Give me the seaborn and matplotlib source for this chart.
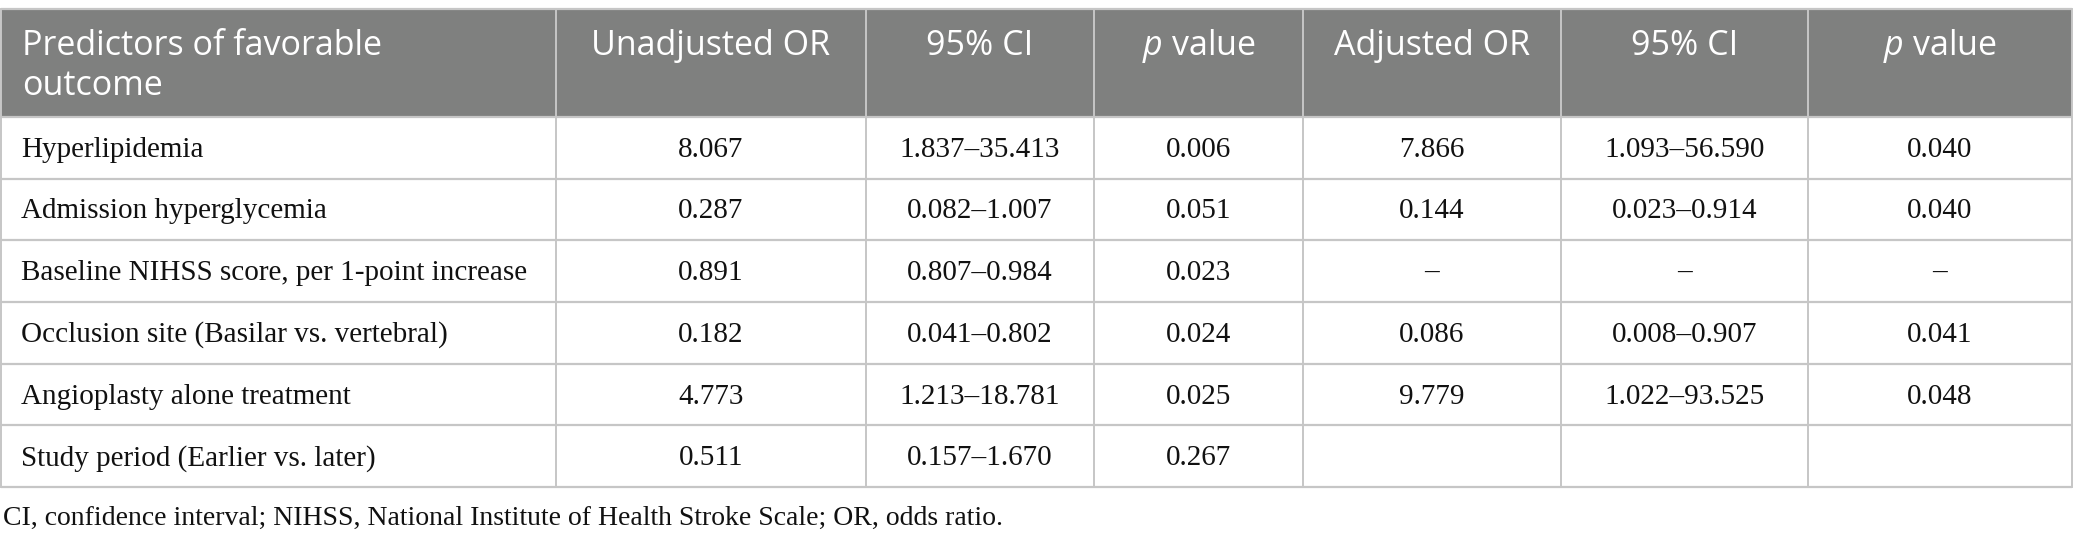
import matplotlib
matplotlib.use("Agg")
import matplotlib.pyplot as plt
import pandas as pd
import seaborn as sns
from matplotlib.patches import Rectangle

# ── table content ─────────────────────────────────────────────
HEADER_LINES = ["Predictors of favorable", "outcome"]
HEADERS = ["Unadjusted OR", "95% CI", "$p$ value", "Adjusted OR", "95% CI", "$p$ value"]
PREDICTORS = [
    "Hyperlipidemia",
    "Admission hyperglycemia",
    "Baseline NIHSS score, per 1-point increase",
    "Occlusion site (Basilar vs. vertebral)",
    "Angioplasty alone treatment",
    "Study period (Earlier vs. later)",
]
UNADJ_OR = ["8.067", "0.287", "0.891", "0.182", "4.773", "0.511"]
UNADJ_CI = ["1.837–35.413", "0.082–1.007", "0.807–0.984", "0.041–0.802", "1.213–18.781", "0.157–1.670"]
UNADJ_P = ["0.006", "0.051", "0.023", "0.024", "0.025", "0.267"]
ADJ_OR = ["7.866", "0.144", "–", "0.086", "9.779", ""]
ADJ_CI = ["1.093–56.590", "0.023–0.914", "–", "0.008–0.907", "1.022–93.525", ""]
ADJ_P = ["0.040", "0.040", "–", "0.041", "0.048", ""]
FOOTNOTE = "CI, confidence interval; NIHSS, National Institute of Health Stroke Scale; OR, odds ratio."

# layout (pixel space)
COL_EDGES = [1, 556, 866, 1094, 1303, 1561, 1808, 2072]
TOP, HEAD_BOTTOM, BOTTOM = 9, 117, 487
HEAD_BASE1, HEAD_BASE2 = 55, 95

HEADER_BG = "#7f807f"
GRID = "#c6c6c6"
HEAD_SIZE = 24.5
BODY_SIZE = 21

sns.set_theme(style="white")
plt.rcParams["mathtext.fontset"] = "custom"
plt.rcParams["mathtext.rm"] = "Open Sans"
plt.rcParams["mathtext.it"] = "Open Sans:italic"

df = pd.DataFrame({
    "predictor": PREDICTORS,
    "unadj_or": UNADJ_OR,
    "unadj_ci": UNADJ_CI,
    "unadj_p": UNADJ_P,
    "adj_or": ADJ_OR,
    "adj_ci": ADJ_CI,
    "adj_p": ADJ_P,
})

fig = plt.figure(figsize=(20.73, 5.43), dpi=100)
ax = fig.add_axes([0, 0, 1, 1])
ax.set_xlim(0, 2073)
ax.set_ylim(543, 0)
ax.axis("off")

n_rows = len(df)
row_h = (BOTTOM - HEAD_BOTTOM) / n_rows

# header band
ax.add_patch(Rectangle((COL_EDGES[0], TOP), COL_EDGES[-1] - COL_EDGES[0], HEAD_BOTTOM - TOP,
                       facecolor=HEADER_BG, edgecolor="none", zorder=1))

head_kw = dict(color="white", fontsize=HEAD_SIZE, family="Open Sans",
               va="baseline", zorder=3)
for y, line in zip([HEAD_BASE1, HEAD_BASE2], HEADER_LINES):
    ax.text(COL_EDGES[0] + 21, y, line, ha="left", **head_kw)
for j, label in enumerate(HEADERS, start=1):
    cx = (COL_EDGES[j] + COL_EDGES[j + 1]) / 2
    ax.text(cx, HEAD_BASE1, label, ha="center", **head_kw)

# body rows
body_kw = dict(fontsize=BODY_SIZE, family="Liberation Serif", color="#111111",
               va="center", zorder=3)
for i, row in enumerate(df.itertuples(index=False)):
    cy = HEAD_BOTTOM + (i + 0.5) * row_h + 2
    for j, val in enumerate(row):
        if j == 0:
            ax.text(COL_EDGES[0] + 20, cy, val, ha="left", **body_kw)
        else:
            cx = (COL_EDGES[j] + COL_EDGES[j + 1]) / 2
            ax.text(cx, cy, val, ha="center", **body_kw)

# grid lines
for k in range(n_rows + 1):
    y = HEAD_BOTTOM + k * row_h
    ax.plot([COL_EDGES[0], COL_EDGES[-1]], [y, y], color=GRID, lw=1.6, zorder=4)
ax.plot([COL_EDGES[0], COL_EDGES[-1]], [TOP, TOP], color=GRID, lw=1.6, zorder=4)
for x in COL_EDGES:
    ax.plot([x, x], [TOP, BOTTOM], color=GRID, lw=1.4, zorder=4)

ax.text(3, 518, FOOTNOTE, ha="left", va="center", fontsize=20,
        family="Liberation Serif", color="#111111")

fig.savefig("out.png", dpi=100)
